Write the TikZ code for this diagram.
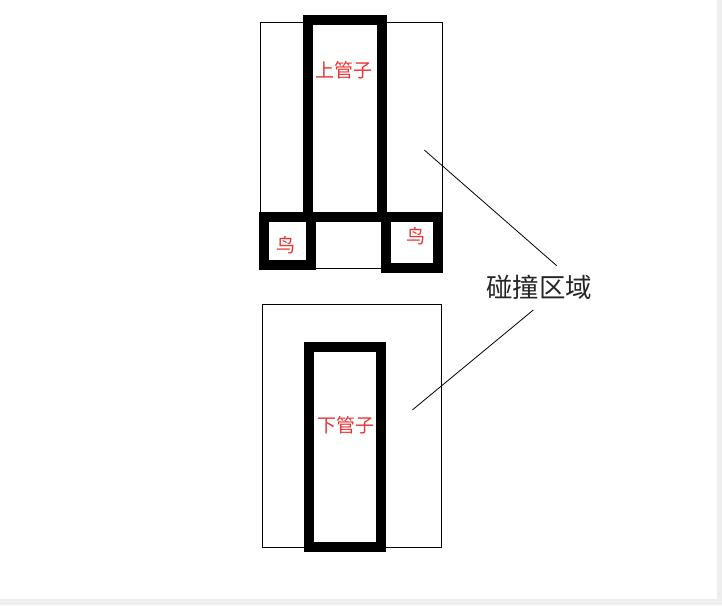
\documentclass[tikz,border=0pt]{standalone}
\usepackage{fontspec}
\newfontfamily\cjk{Noto Sans CJK SC}
\definecolor{lbl}{RGB}{236,52,52}
\definecolor{pagegray}{RGB}{238,238,238}
\begin{document}
\begin{tikzpicture}[x=1pt,y=-1pt,
  zone/.style={draw=black,line width=1pt},
  wall/.style={draw=black,line width=10pt,line join=miter},
  redlbl/.style={text=lbl,font=\cjk\fontsize{19}{19}\selectfont,inner sep=0pt},
  biglbl/.style={text=black!85,font=\cjk\fontsize{26.5}{26.5}\selectfont,inner sep=0pt},
  leader/.style={draw=black,line width=0.8pt}]
\useasboundingbox (0,0) rectangle (722,605);
\fill[pagegray] (0,0) rectangle (722,605);
\fill[white] (0,0) rectangle (717,599);
% collision zones
\draw[zone] (260.5,22.5) rectangle (442.5,268);
\draw[zone] (262.5,304.5) rectangle (441.5,547.5);
% pipes
\draw[wall] (308.3,20) rectangle (382,217.3);
\draw[wall] (309,346.7) rectangle (381,546.7);
% birds
\draw[wall] (264,216.7) rectangle (310.7,265.3);
\draw[wall] (386.3,216.7) rectangle (437.7,268);
% labels
\node[redlbl] (up) at (344,70) {上管子};
\node[redlbl] (down) at (346,425) {下管子};
\node[redlbl] (b1) at (286,245) {鸟};
\node[redlbl] (b2) at (416,236) {鸟};
\node[biglbl] (cz) at (539,287) {碰撞区域};
% leaders
\coordinate (p1) at (424.3,150);
\coordinate (p2) at (412.3,410);
\coordinate (c1) at (556.7,265.7);
\coordinate (c2) at (533.3,310);
\draw[leader] (p1) -- (c1);
\draw[leader] (c2) -- (p2);
\end{tikzpicture}
\end{document}
